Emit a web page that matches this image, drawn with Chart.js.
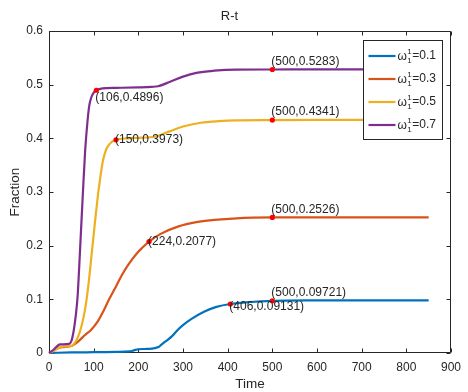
<!DOCTYPE html>
<html><head><meta charset="utf-8">
<script src="https://cdn.jsdelivr.net/npm/chart.js@4"></script>
<style>html,body{margin:0;padding:0;background:#fff;}#wrap{width:468px;height:392px;}</style>
</head><body><div id="wrap"><canvas id="c" width="468" height="392"></canvas></div>
<script>
// ---------- data ----------
const omegaValues = ['0.1', '0.3', '0.5', '0.7'];

const timeBlue = [0, 20, 50, 100, 150, 180, 190, 200, 215, 230, 245, 251, 260, 275, 288, 300, 320, 347, 375, 406, 450, 500, 600, 700, 850];
const fracBlue = [0, 0.0005, 0.001, 0.0015, 0.002, 0.003, 0.005, 0.007, 0.0075, 0.008, 0.011, 0.015, 0.021, 0.031, 0.043, 0.052, 0.064, 0.077, 0.086, 0.09131, 0.095, 0.09721, 0.098, 0.0982, 0.0982];

const timeOrange = [0, 10, 20, 30, 50, 60, 70, 80, 94, 110, 120, 134, 150, 163, 178, 196, 210, 224, 250, 290, 330, 370, 420, 500, 600, 850];
const fracOrange = [0, 0.004, 0.009, 0.011, 0.013, 0.018, 0.025, 0.033, 0.043, 0.06, 0.075, 0.099, 0.124, 0.145, 0.165, 0.185, 0.197, 0.2077, 0.222, 0.236, 0.244, 0.248, 0.251, 0.2526, 0.2528, 0.2528];

const timeYellow = [0, 10, 20, 30, 50, 55, 60, 65, 70, 75, 80, 85, 90, 95, 100, 105, 110, 115, 120, 125, 130, 140, 150, 175, 200, 237, 270, 300, 340, 380, 420, 500, 600, 850];
const fracYellow = [0, 0.004, 0.009, 0.012, 0.013, 0.016, 0.022, 0.03, 0.042, 0.058, 0.078, 0.105, 0.14, 0.18, 0.22, 0.26, 0.297, 0.328, 0.355, 0.372, 0.383, 0.393, 0.3973, 0.4, 0.401, 0.403, 0.413, 0.422, 0.429, 0.432, 0.4335, 0.4341, 0.4343, 0.4343];

const timePurple = [0, 10, 20, 25, 45, 50, 55, 60, 64, 67, 70, 76, 81, 86, 90, 95, 100, 106, 120, 150, 200, 230, 244, 270, 300, 330, 370, 420, 500, 600, 850];
const fracPurple = [0, 0.006, 0.014, 0.016, 0.017, 0.022, 0.04, 0.07, 0.105, 0.15, 0.2, 0.3, 0.378, 0.43, 0.46, 0.477, 0.485, 0.4896, 0.493, 0.494, 0.495, 0.496, 0.497, 0.505, 0.515, 0.522, 0.526, 0.528, 0.5283, 0.5285, 0.5285];

const tipTimes  = [106, 150, 224, 406, 500, 500, 500, 500];
const tipValues = [0.4896, 0.3973, 0.2077, 0.09131, 0.09721, 0.2526, 0.4341, 0.5283];

const xTickValues = [0, 100, 200, 300, 400, 500, 600, 700, 800, 900];
const xTickLabels = ['0', '100', '200', '300', '400', '500', '600', '700', '800', '900'];
const yTickValues = [0, 0.1, 0.2, 0.3, 0.4, 0.5, 0.6];
const yTickLabels = ['0', '0.1', '0.2', '0.3', '0.4', '0.5', '0.6'];

// ---------- styles ----------
const FONT = '"Liberation Sans", Arial, Helvetica, sans-serif';
const TXT = '#262626';
const seriesColors = ['#0072BD', '#D95319', '#EDB120', '#7E2F8E'];
const tipLabelOffsets = [[-1, 7], [-1, 0], [-1, 0], [-1, 3], [-1, -8], [-1, -8], [-1, -8], [-1, -8]];

const series = [
  {t: timeBlue, v: fracBlue},
  {t: timeOrange, v: fracOrange},
  {t: timeYellow, v: fracYellow},
  {t: timePurple, v: fracPurple}
];

const datasets = series.map((s, i) => ({
  type: 'line',
  label: omegaValues[i],
  data: s.t.map((t, j) => ({x: t, y: s.v[j]})),
  borderColor: seriesColors[i],
  backgroundColor: seriesColors[i],
  borderWidth: 2.2,
  pointRadius: 0,
  cubicInterpolationMode: 'monotone',
  fill: false,
  clip: false,
  order: 4 - i
}));
datasets.unshift({
  type: 'scatter',
  label: 'tips',
  data: tipTimes.map((t, i) => ({x: t, y: tipValues[i]})),
  pointRadius: 2.6,
  pointBackgroundColor: '#ff0000',
  pointBorderWidth: 0,
  showLine: false,
  clip: false,
  order: 0
});

const framePlugin = {
  id: 'frame',
  beforeDatasetsDraw(chart) {
    const {ctx, chartArea: a, scales: {x, y}} = chart;
    ctx.save();
    ctx.strokeStyle = TXT;
    ctx.lineWidth = 1;
    const L = Math.round(a.left) + 0.5, R = Math.round(a.right) - 0.5;
    const T = Math.round(a.top) + 0.5, B = Math.round(a.bottom) - 0.5;
    ctx.beginPath();
    ctx.rect(L, T, R - L, B - T);
    xTickValues.forEach(v => {
      const px = Math.round(x.getPixelForValue(v)) + 0.5;
      ctx.moveTo(px, B); ctx.lineTo(px, B - 4);
      ctx.moveTo(px, T); ctx.lineTo(px, T + 4);
    });
    yTickValues.forEach(v => {
      const py = Math.round(y.getPixelForValue(v)) + 0.5;
      ctx.moveTo(L, py); ctx.lineTo(L + 4, py);
      ctx.moveTo(R, py); ctx.lineTo(R - 4, py);
    });
    ctx.stroke();
    ctx.restore();
  }
};

const tipLabelPlugin = {
  id: 'tipLabels',
  afterDatasetsDraw(chart) {
    const {ctx, scales: {x, y}} = chart;
    ctx.save();
    ctx.font = '12px ' + FONT;
    ctx.fillStyle = TXT;
    ctx.textAlign = 'left';
    ctx.textBaseline = 'middle';
    tipTimes.forEach((t, i) => {
      const txt = '(' + t + ',' + tipValues[i] + ')';
      const px = x.getPixelForValue(t) + tipLabelOffsets[i][0];
      const py = y.getPixelForValue(tipValues[i]) + tipLabelOffsets[i][1];
      ctx.fillText(txt, px, py);
    });
    ctx.restore();
  }
};

const legendPlugin = {
  id: 'matlabLegend',
  afterDraw(chart) {
    const {ctx, chartArea: a} = chart;
    const boxL = Math.round(a.right) - 87.5, boxT = Math.round(a.top) + 9.5;
    const boxW = 79, boxH = 99;
    ctx.save();
    ctx.fillStyle = '#fff';
    ctx.fillRect(boxL, boxT, boxW, boxH);
    ctx.strokeStyle = TXT;
    ctx.lineWidth = 1;
    ctx.strokeRect(boxL, boxT, boxW, boxH);
    omegaValues.forEach((val, i) => {
      const cy = boxT + 15.5 + i * 23;
      ctx.strokeStyle = seriesColors[i];
      ctx.lineWidth = 2.2;
      ctx.beginPath();
      ctx.moveTo(boxL + 5, cy); ctx.lineTo(boxL + 32, cy);
      ctx.stroke();
      ctx.fillStyle = TXT;
      ctx.textBaseline = 'middle';
      ctx.textAlign = 'left';
      let tx = boxL + 34;
      ctx.font = '12px ' + FONT;
      ctx.fillText('\u03C9', tx, cy + 1);
      tx += ctx.measureText('\u03C9').width + 0.5;
      ctx.font = '8px ' + FONT;
      ctx.fillText('1', tx, cy - 4);
      ctx.fillText('1', tx, cy + 5);
      tx += ctx.measureText('1').width + 0.5;
      ctx.font = '12px ' + FONT;
      ctx.fillText('=' + val, tx, cy);
    });
    ctx.restore();
  }
};

new Chart(document.getElementById('c'), {
  data: {datasets},
  options: {
    responsive: false,
    animation: false,
    devicePixelRatio: 1,
    layout: {padding: {left: 0, right: 9, top: 0, bottom: 0}},
    plugins: {
      legend: {display: false},
      tooltip: {enabled: false},
      title: {
        display: true, text: 'R-t', color: TXT,
        font: {family: FONT, size: 13, weight: 'normal', lineHeight: 1.2},
        padding: {top: 9, bottom: 6.4}
      }
    },
    scales: {
      x: {
        type: 'linear', min: 0, max: 900,
        grid: {display: false, drawTicks: false},
        border: {display: false},
        afterBuildTicks(s) { s.ticks = xTickValues.map(v => ({value: v})); },
        ticks: {
          color: TXT, font: {family: FONT, size: 12}, padding: 7, maxRotation: 0,
          callback: (v) => xTickLabels[xTickValues.indexOf(v)]
        },
        title: {display: true, text: 'Time', color: TXT, font: {family: FONT, size: 13.5}, padding: {top: 0, bottom: 0}},
        afterFit(s) { s.height = 39; }
      },
      y: {
        type: 'linear', min: 0, max: 0.6,
        grid: {display: false, drawTicks: false},
        border: {display: false},
        afterBuildTicks(s) { s.ticks = yTickValues.map(v => ({value: v})); },
        ticks: {
          color: TXT, font: {family: FONT, size: 12}, padding: 6,
          callback: (v) => yTickLabels[yTickValues.indexOf(v)]
        },
        title: {display: true, text: 'Fraction', color: TXT, font: {family: FONT, size: 13.5}, padding: {top: 7, bottom: 0}},
        afterFit(s) { s.width = 49; }
      }
    }
  },
  plugins: [framePlugin, tipLabelPlugin, legendPlugin]
});
</script>
</body></html>
